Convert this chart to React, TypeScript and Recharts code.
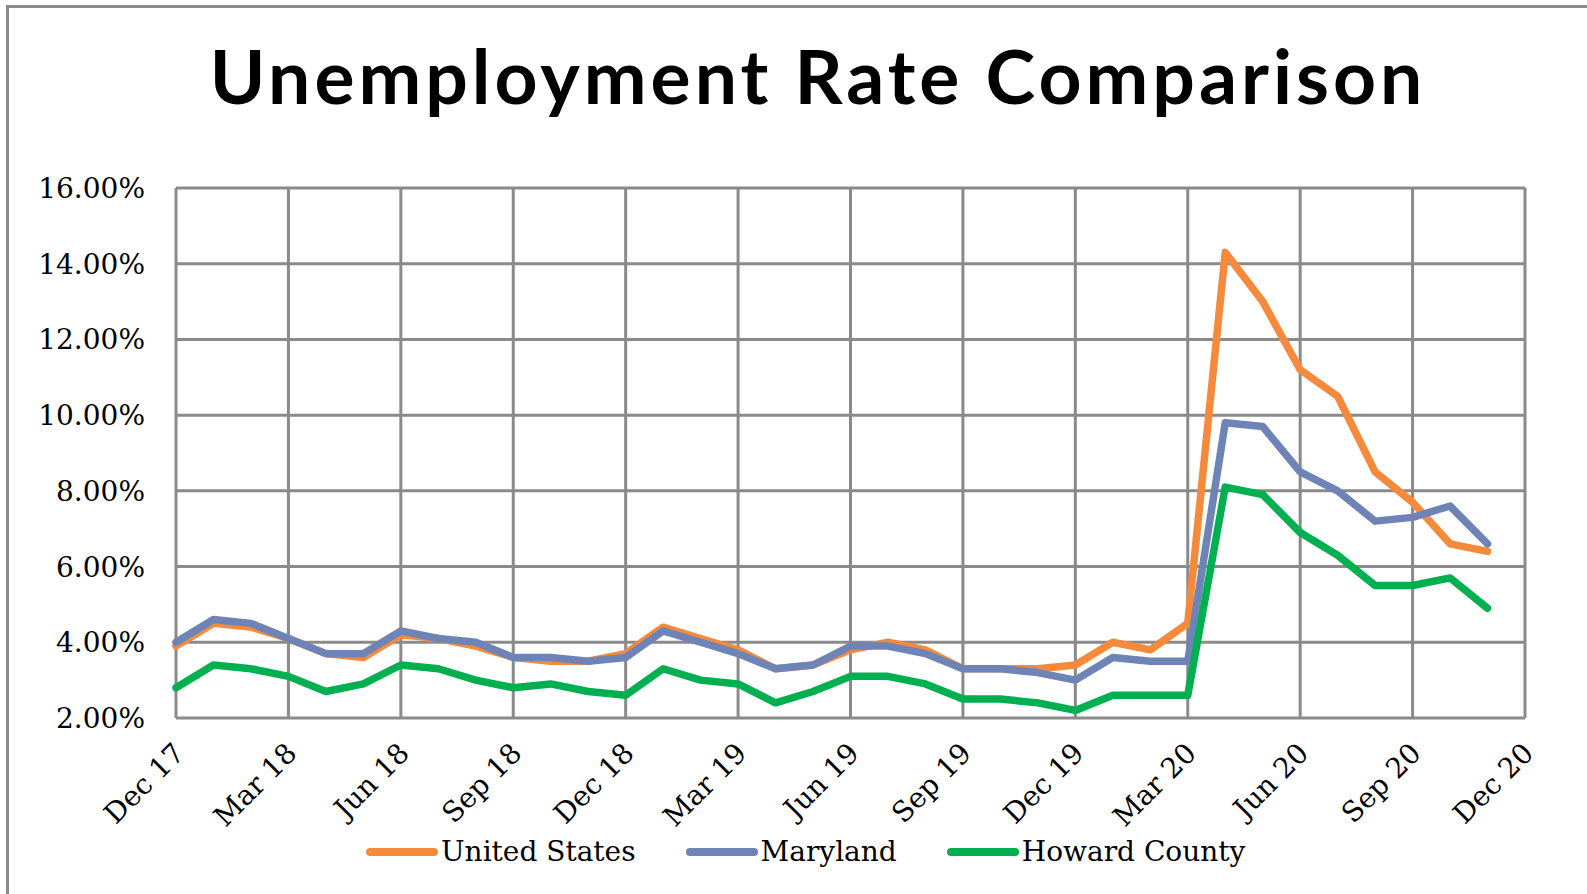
import React from 'react';
import { LineChart, Line, XAxis, YAxis, CartesianGrid } from 'recharts';

// months on the axis, Dec 17 .. Dec 20 (last one has no data)
const months = [
  'Dec 17', 'Jan 18', 'Feb 18', 'Mar 18', 'Apr 18', 'May 18', 'Jun 18', 'Jul 18', 'Aug 18', 'Sep 18', 'Oct 18', 'Nov 18',
  'Dec 18', 'Jan 19', 'Feb 19', 'Mar 19', 'Apr 19', 'May 19', 'Jun 19', 'Jul 19', 'Aug 19', 'Sep 19', 'Oct 19', 'Nov 19',
  'Dec 19', 'Jan 20', 'Feb 20', 'Mar 20', 'Apr 20', 'May 20', 'Jun 20', 'Jul 20', 'Aug 20', 'Sep 20', 'Oct 20', 'Nov 20',
  'Dec 20',
];

const unitedStates = [
  3.9, 4.5, 4.4, 4.1, 3.7, 3.6, 4.2, 4.1, 3.9, 3.6, 3.5, 3.5,
  3.7, 4.4, 4.1, 3.8, 3.3, 3.4, 3.8, 4.0, 3.8, 3.3, 3.3, 3.3,
  3.4, 4.0, 3.8, 4.5, 14.3, 13.0, 11.2, 10.5, 8.5, 7.7, 6.6, 6.4,
];

const maryland = [
  4.0, 4.6, 4.5, 4.1, 3.7, 3.7, 4.3, 4.1, 4.0, 3.6, 3.6, 3.5,
  3.6, 4.3, 4.0, 3.7, 3.3, 3.4, 3.9, 3.9, 3.7, 3.3, 3.3, 3.2,
  3.0, 3.6, 3.5, 3.5, 9.8, 9.7, 8.5, 8.0, 7.2, 7.3, 7.6, 6.6,
];

const howardCounty = [
  2.8, 3.4, 3.3, 3.1, 2.7, 2.9, 3.4, 3.3, 3.0, 2.8, 2.9, 2.7,
  2.6, 3.3, 3.0, 2.9, 2.4, 2.7, 3.1, 3.1, 2.9, 2.5, 2.5, 2.4,
  2.2, 2.6, 2.6, 2.6, 8.1, 7.9, 6.9, 6.3, 5.5, 5.5, 5.7, 4.9,
];

const yTicks = [2, 4, 6, 8, 10, 12, 14, 16];

const series = [
  { key: 'us', name: 'United States', color: '#F68A3C' },
  { key: 'md', name: 'Maryland', color: '#6F84B6' },
  { key: 'hc', name: 'Howard County', color: '#00AF4F' },
];

const data = months.map((m, i) => ({
  idx: i,
  label: m,
  us: unitedStates[i],
  md: maryland[i],
  hc: howardCounty[i],
}));

const xTicks = months.map((_, i) => i).filter(i => i % 3 === 0);

const FONT = '"DejaVu Serif", serif';
const GRID = '#8a8a8a';

const MonthTick = (props: any) => {
  const { x, y, payload } = props;
  const ax = x + 10;
  const ay = y + 29;
  return (
    <text
      x={ax}
      y={ay}
      textAnchor="end"
      fontFamily={FONT}
      fontSize={28}
      fill="#000"
      transform={`rotate(-45, ${ax}, ${ay})`}
    >
      {months[payload.value]}
    </text>
  );
};

const App: React.FC = () => {
  return (
    <div style={{ position: 'absolute', left: 0, top: 0, width: 1587, height: 894, overflow: 'hidden', background: '#fff' }}>
      <div
        style={{
          position: 'absolute', left: 6, top: 5, width: 1700, height: 1000,
          border: `3px solid ${GRID}`, boxSizing: 'border-box',
        }}
      />
      <div
        style={{
          position: 'absolute', left: 2, top: 38, width: 1632, textAlign: 'center',
          fontFamily: 'Lato, "Open Sans", sans-serif', fontWeight: 700, fontSize: 75, lineHeight: 1,
          letterSpacing: 4, color: '#000',
        }}
      >
        Unemployment Rate Comparison
      </div>
      <div style={{ position: 'absolute', left: 0, top: 0 }}>
        <LineChart width={1587} height={894} data={data} margin={{ top: 188, right: 62, left: 0, bottom: 0 }}>
          <CartesianGrid stroke={GRID} strokeWidth={3} />
          <XAxis
            dataKey="idx"
            type="number"
            domain={[0, 36]}
            ticks={xTicks}
            interval={0}
            height={176}
            axisLine={false}
            tickLine={false}
            tick={<MonthTick />}
          />
          <YAxis
            type="number"
            domain={[2, 16]}
            ticks={yTicks}
            width={176}
            axisLine={false}
            tickLine={false}
            tickSize={0}
            tickMargin={31}
            tickFormatter={(v: number) => `${v.toFixed(2)}%`}
            tick={{ fontFamily: FONT, fontSize: 28, fill: '#000' }}
          />
          {series.map(s => (
            <Line
              key={s.key}
              type="linear"
              dataKey={s.key}
              name={s.name}
              stroke={s.color}
              strokeWidth={7.5}
              strokeLinejoin="round"
              strokeLinecap="round"
              dot={false}
              activeDot={false}
              isAnimationActive={false}
            />
          ))}
        </LineChart>
      </div>
      <div
        style={{
          position: 'absolute', left: 366, top: 832, display: 'flex', alignItems: 'center', gap: 50,
          fontFamily: FONT, fontSize: 28, color: '#000', lineHeight: '40px', whiteSpace: 'nowrap',
        }}
      >
        {series.map(s => (
          <div key={s.key} style={{ display: 'flex', alignItems: 'center' }}>
            <span style={{ display: 'inline-block', width: 72, height: 8, borderRadius: 4, background: s.color, marginRight: 3 }} />
            <span>{s.name}</span>
          </div>
        ))}
      </div>
    </div>
  );
};

export default App;
